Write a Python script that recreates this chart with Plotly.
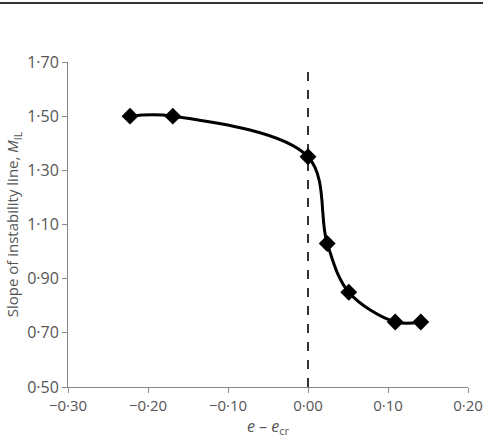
import plotly.graph_objects as go

x_vals = [-0.2225, -0.169, 0.0, 0.024, 0.051, 0.109, 0.141]
y_vals = [1.50, 1.50, 1.35, 1.03, 0.85, 0.74, 0.74]

x_ticks = [-0.30, -0.20, -0.10, 0.00, 0.10, 0.20]
x_ticklabels = ["\u22120·30", "\u22120·20", "\u22120·10", "0·00", "0·10", "0·20"]
y_ticks = [0.50, 0.70, 0.90, 1.10, 1.30, 1.50, 1.70]
y_ticklabels = ["0·50", "0·70", "0·90", "1·10", "1·30", "1·50", "1·70"]

FONT = "Open Sans"
W, H = 483, 446
ml, mr, mt, mb = 68, 15, 62, 59
pw = W - ml - mr
ph = H - mt - mb

fig = go.Figure()
fig.add_trace(go.Scatter(
    x=x_vals, y=y_vals, mode="lines+markers",
    line=dict(color="black", width=3, shape="spline", smoothing=1.0),
    marker=dict(symbol="diamond", size=13, color="black"),
    showlegend=False,
))

# dashed vertical line at x = 0
fig.add_shape(type="line", xref="x", yref="y", x0=0, x1=0, y0=0.50, y1=1.69,
              line=dict(color="#333333", width=2, dash="dash"), layer="below")
# top rule
fig.add_shape(type="line", xref="paper", yref="paper",
              x0=-ml / pw, x1=1 + mr / pw, y0=1 + (mt - 3) / ph, y1=1 + (mt - 3) / ph,
              line=dict(color="#333333", width=2))

axis_common = dict(
    showgrid=False, zeroline=False, showline=True, linecolor="#888888", linewidth=1,
    ticks="outside", ticklen=5, tickcolor="#888888", automargin=False,
)

fig.update_xaxes(range=[-0.30, 0.20], tickvals=x_ticks, ticktext=x_ticklabels,
                 tickfont=dict(family=FONT, size=15, color="#555555"),
                 title=dict(text="<i>e</i> \u2013 <i>e</i><sub>cr</sub>",
                            font=dict(family=FONT, size=16, color="#555555"), standoff=5),
                 **axis_common)
fig.update_yaxes(range=[0.50, 1.70], tickvals=y_ticks, ticktext=y_ticklabels,
                 tickfont=dict(family=FONT, size=16, color="#555555"),
                 title=dict(text="Slope of instability line, <i>M</i><sub>IL</sub>",
                            font=dict(family=FONT, size=15, color="#555555"), standoff=4),
                 **axis_common)

fig.update_layout(
    width=W, height=H, margin=dict(l=ml, r=mr, t=mt, b=mb),
    plot_bgcolor="white", paper_bgcolor="white",
    font=dict(family=FONT, color="#555555"),
)

fig.write_html("out.html")
